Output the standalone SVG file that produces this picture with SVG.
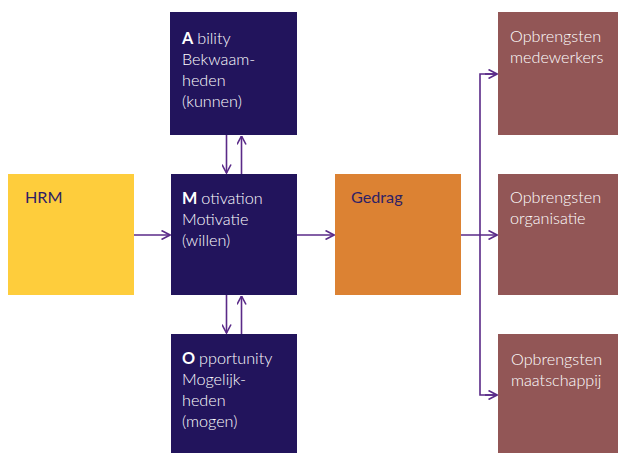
<svg xmlns="http://www.w3.org/2000/svg" width="618" height="453" viewBox="0 0 618 453">
<defs>
<style>
.navy{fill:#22145c}
.hrm{fill:#fecd3c}
.ged{fill:#dc8233}
.res{fill:#925656}
.tw{font-family:"Lato","Open Sans","Liberation Sans",sans-serif;font-size:16.2px;fill:#ffffff;font-weight:300}
.td{font-family:"Lato","Open Sans","Liberation Sans",sans-serif;font-size:16.2px;fill:#2e2166;font-weight:400}
.b{font-weight:700}
.c{fill:none;stroke:#5a2a88;stroke-width:1.6}
</style>
<marker id="ah" viewBox="0 0 10 10" refX="9.5" refY="5" markerWidth="10" markerHeight="10" markerUnits="userSpaceOnUse" orient="auto">
<path d="M1,0.5 L9.5,5 L1,9.5" fill="none" stroke="#5a2a88" stroke-width="1.6"/>
</marker>
</defs>
<rect width="618" height="453" fill="#ffffff"/>
<g id="connectors">
<line class="c" x1="134" y1="235" x2="170" y2="235" marker-end="url(#ah)"/>
<line class="c" x1="297" y1="235" x2="334" y2="235" marker-end="url(#ah)"/>
<line class="c" x1="226.5" y1="135" x2="226.5" y2="173" marker-end="url(#ah)"/>
<line class="c" x1="241.5" y1="174" x2="241.5" y2="136" marker-end="url(#ah)"/>
<line class="c" x1="226.5" y1="295" x2="226.5" y2="333" marker-end="url(#ah)"/>
<line class="c" x1="241.5" y1="334" x2="241.5" y2="296" marker-end="url(#ah)"/>
<line class="c" x1="461" y1="235" x2="497" y2="235" marker-end="url(#ah)"/>
<polyline class="c" points="497,74 480,74 480,395 497,395"/>
<line class="c" x1="485" y1="74" x2="497" y2="74" marker-end="url(#ah)"/>
<line class="c" x1="485" y1="395" x2="497" y2="395" marker-end="url(#ah)"/>
</g>
<g id="hrm">
<rect class="hrm" x="8" y="174" width="126" height="121"/>
<text class="td" x="25" y="203">HRM</text>
</g>
<g id="ability">
<rect class="navy" x="170" y="12" width="127" height="123"/>
<text class="tw" x="182" y="44"><tspan class="b">A</tspan><tspan dx="4">bility</tspan></text>
<text class="tw" x="182" y="65">Bekwaam-</text>
<text class="tw" x="182" y="86">heden</text>
<text class="tw" x="182" y="107">(kunnen)</text>
</g>
<g id="motivation">
<rect class="navy" x="171" y="174" width="126" height="121"/>
<text class="tw" x="182" y="204"><tspan class="b">M</tspan><tspan dx="4">otivation</tspan></text>
<text class="tw" x="182" y="225">Motivatie</text>
<text class="tw" x="182" y="246">(willen)</text>
</g>
<g id="opportunity">
<rect class="navy" x="171" y="334" width="126" height="119"/>
<text class="tw" x="182" y="364"><tspan class="b">O</tspan><tspan dx="4">pportunity</tspan></text>
<text class="tw" x="182" y="385">Mogelijk-</text>
<text class="tw" x="182" y="406">heden</text>
<text class="tw" x="182" y="427">(mogen)</text>
</g>
<g id="gedrag">
<rect class="ged" x="335" y="174" width="126" height="121"/>
<text class="td" x="351" y="203">Gedrag</text>
</g>
<g id="medewerkers">
<rect class="res" x="498" y="12" width="126" height="123"/>
<text class="tw" x="510" y="42">Opbrengsten</text>
<text class="tw" x="510" y="63">medewerkers</text>
</g>
<g id="organisatie">
<rect class="res" x="498" y="174" width="126" height="121"/>
<text class="tw" x="510" y="203">Opbrengsten</text>
<text class="tw" x="510" y="224">organisatie</text>
</g>
<g id="maatschappij">
<rect class="res" x="498" y="334" width="126" height="119"/>
<text class="tw" x="511" y="365">Opbrengsten</text>
<text class="tw" x="511" y="386">maatschappij</text>
</g>
</svg>
